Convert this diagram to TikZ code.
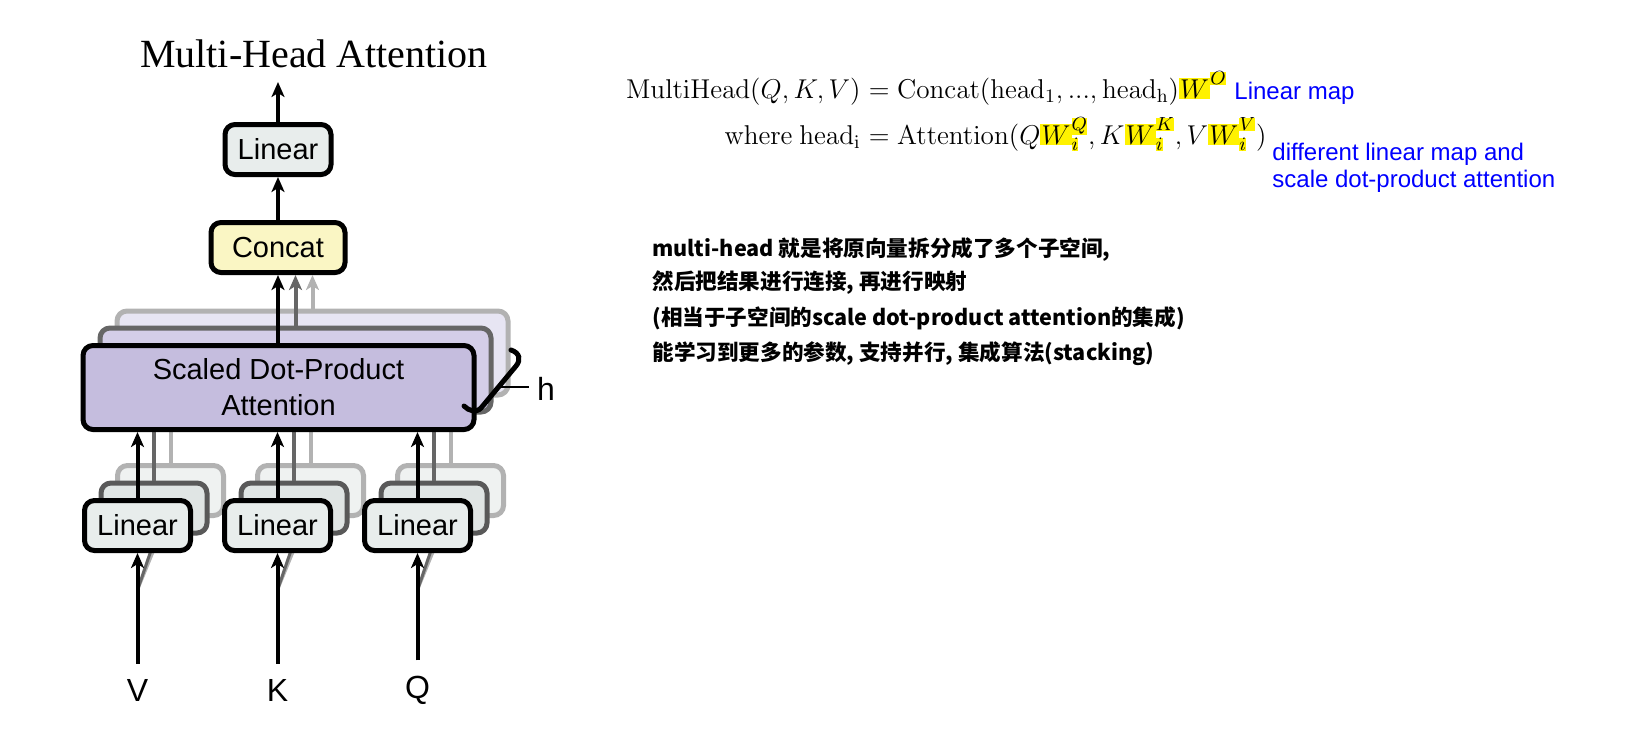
\RequirePackage{fix-cm}
\documentclass[tikz,border=0pt]{standalone}
\usepackage[no-math]{fontspec}
\setmainfont{Liberation Serif}
\setsansfont{Liberation Sans}
\newfontfamily\cjk{Noto Sans CJK SC}
\usetikzlibrary{arrows.meta}

\definecolor{linfill}{RGB}{232,237,236}
\definecolor{linfilltwo}{RGB}{224,229,228}
\definecolor{linfillthree}{RGB}{239,242,241}
\definecolor{catfill}{RGB}{250,246,196}
\definecolor{attfill}{RGB}{197,189,222}
\definecolor{attfilltwo}{RGB}{212,206,232}
\definecolor{attfillthree}{RGB}{231,229,243}
\definecolor{notecol}{RGB}{0,0,255}

\newcommand{\hlm}[1]{{\setlength{\fboxsep}{0.6pt}\colorbox{yellow}{$#1$}}}
\newcommand{\hls}[1]{{\setlength{\fboxsep}{0pt}\colorbox{yellow}{$\scriptstyle #1$}}}

\begin{document}
\begin{tikzpicture}[x=0.5pt, y=-0.5pt]
    \tikzset{
        block/.style={draw=black, line width=2.5pt, rounded corners=5pt, inner sep=0pt,
            align=center, font=\sffamily\fontsize{14.5}{18}\selectfont},
        linbox/.style={block, fill=linfill, minimum width=53pt, minimum height=25pt},
        linback2/.style={linbox, draw=black!65, fill=linfilltwo},
        linback3/.style={linbox, draw=black!30, fill=linfillthree},
        catbox/.style={block, fill=catfill, minimum width=67pt, minimum height=25pt},
        attbox/.style={block, fill=attfill, minimum width=195.5pt, minimum height=42pt},
        attback2/.style={attbox, draw=black!60, fill=attfilltwo},
        attback3/.style={attbox, draw=black!30, fill=attfillthree},
        flow/.style={line width=2pt, -{Stealth[length=7.5pt, width=6.5pt, inset=2pt]}},
        ghost2/.style={flow, draw=black!60, color=black!60},
        ghost3/.style={flow, draw=black!30, color=black!30},
        inlabel/.style={inner sep=0pt, font=\sffamily\fontsize{16}{19}\selectfont},
        mathtext/.style={inner sep=0pt, font=\fontsize{13.6}{16}\selectfont},
        note/.style={inner sep=0pt, text=notecol, font=\sffamily\fontsize{12}{14}\selectfont},
        cjknote/.style={inner sep=0pt, anchor=base west, font=\cjk\bfseries\fontsize{10.8}{13}\selectfont}
    }
    \useasboundingbox (0,0) rectangle (1628,746);

    % --- back copies (h heads) ---
    \node[attback3] (att-3) at (312.5,353) {};
    \node[attback2] (att-2) at (295.5,370) {};
    \foreach \name/\x in {v/137.5, k/277.5, q/417.5} {
        \node[linback3] (lin-\name-3) at (\x+33,490.5) {};
        \node[linback2] (lin-\name-2) at (\x+16.5,508) {};
        \coordinate (fork-\name) at (\x,590);
    }
    \foreach \name in {v,k,q} {
        \draw[ghost3, -] (lin-\name-3.north) -- (lin-\name-3.north |- att-3.south);
        \draw[ghost2, -] (lin-\name-2.north) -- (lin-\name-2.north |- att-2.south);
        \draw[ghost3, -, line width=1.5pt] (fork-\name) -- ++(18,-44);
        \draw[ghost2, -, line width=1.5pt] (fork-\name) -- ++(15,-44);
    }

    % --- front blocks ---
    \node[attbox] (att) at (278.5,387.5) {Scaled Dot-Product\\Attention};
    \node[catbox] (concat) at (278,247.5) {Concat};
    \node[linbox] (linout) at (278,149.5) {Linear};
    \coordinate (out) at (278,82);
    \node[font=\fontsize{20}{24}\selectfont, inner sep=0pt] (title) at (314,54) {Multi-Head Attention};

    \draw[ghost3] (att-3.north) -- (att-3.north |- concat.south);
    \draw[ghost2] (att-2.north) -- (att-2.north |- concat.south);
    \draw[flow] (att.north -| concat.south) -- (concat.south);
    \draw[flow] (concat.north) -- (linout.south);
    \draw[flow] (linout.north) -- (out);

    \foreach \name/\lab/\x in {v/V/137.5, k/K/277.5, q/Q/417.5} {
        \node[linbox] (lin-\name) at (\x,525.5) {Linear};
        \node[inlabel] (in-\name) at (\x,690) {\lab};
        \draw[flow] (in-\name.north) ++(0,-15) -- (lin-\name.south);
        \draw[flow] (lin-\name.north) -- (lin-\name.north |- att.south);
    }

    % --- h bracket ---
    \draw[line width=2.5pt, line cap=round] (511,350) .. controls (520,353) and (521,360) .. (516,366)
        -- (481,408) .. controls (476,413) and (469,411) .. (464,406);
    \node[inlabel] (heads) at (546,389) {h};
    \coordinate (hbar) at (500,387);
    \draw[line width=1.2pt] (hbar) -- ([xshift=-4pt]heads.west |- hbar);

    % --- formulas ---
    \node[mathtext, anchor=base east] (mh-lhs) at (861,98) {$\mathrm{MultiHead}(Q,K,V)$};
    \node[mathtext, anchor=base west] (mh-rhs) at (861,98)
        {${}=\mathrm{Concat}(\mathrm{head_1},...,\mathrm{head_h})\hlm{W}^{\hls{O}}$};
    \node[mathtext, anchor=base east] (wh-lhs) at (861,144) {$\mathrm{where}\ \mathrm{head_i}$};
    \node[mathtext, anchor=base west] (wh-rhs) at (861,144)
        {${}=\mathrm{Attention}(Q\hlm{W}_{\hls{i}}^{\hls{Q}},K\hlm{W}_{\hls{i}}^{\hls{K}},V\hlm{W}_{\hls{i}}^{\hls{V}})$};

    \node[note, anchor=base west] (map-note) at (1234,99) {Linear map};
    \node[note, anchor=base west] (diff-note-1) at (1272,160) {different linear map and};
    \node[note, anchor=base west] (diff-note-2) at (1272,187) {scale dot-product attention};

    % --- remarks ---
    \node[cjknote] (rem-1) at (652,256) {multi-head 就是将原向量拆分成了多个子空间,};
    \node[cjknote] (rem-2) at (652,289) {然后把结果进行连接, 再进行映射};
    \node[cjknote] (rem-3) at (652,325) {(相当于子空间的scale dot-product attention的集成)};
    \node[cjknote] (rem-4) at (652,360) {能学习到更多的参数, 支持并行, 集成算法(stacking)};
\end{tikzpicture}
\end{document}
